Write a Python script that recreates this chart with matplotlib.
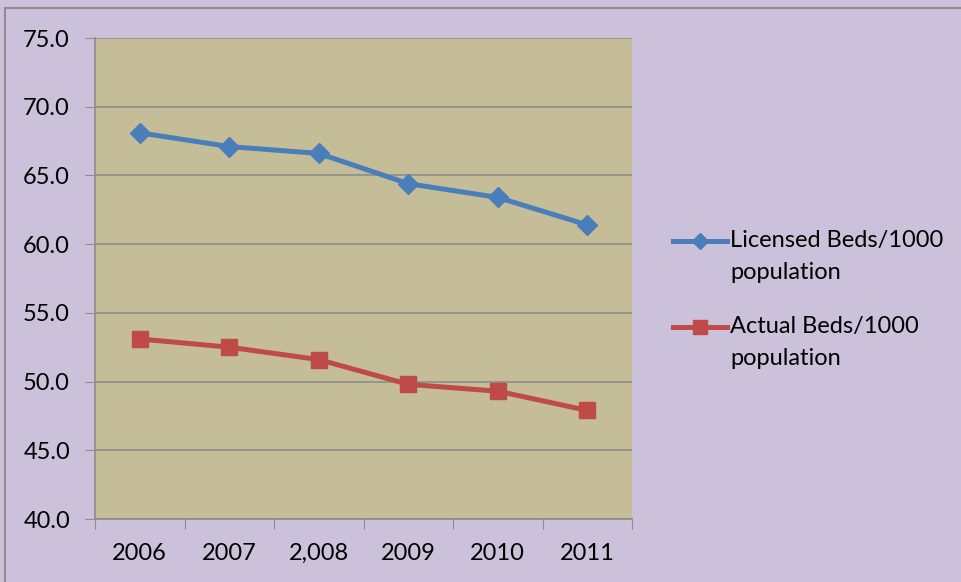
import matplotlib

matplotlib.use("Agg")

import matplotlib.pyplot as plt
from matplotlib.offsetbox import DrawingArea
from matplotlib.patches import Rectangle
from matplotlib.transforms import ScaledTranslation

# dados
anos = ["2006", "2007", "2,008", "2009", "2010", "2011"]
leitos_licenciados = [68.1, 67.1, 66.6, 64.4, 63.4, 61.4]
leitos_reais = [53.1, 52.5, 51.6, 49.8, 49.3, 47.9]
rotulo_licenciados = "Licensed Beds/1000\npopulation"
rotulo_reais = "Actual Beds/1000\npopulation"
y_ticks = [40.0, 45.0, 50.0, 55.0, 60.0, 65.0, 70.0, 75.0]

_FUNDO = "#CCC1DA"
_AREA = "#C4BD97"
_AZUL = "#4A7EBB"
_VERMELHO = "#BE4B48"
_GRADE = "#8C8C8C"
_TAM = 17

plt.rcParams["font.family"] = ["Lato", "DejaVu Sans"]

fig = plt.figure(figsize=(9.62, 5.82), dpi=100, facecolor=_FUNDO)
fig.patches.append(
    Rectangle((5 / 962, -0.01), 1.0, 1 - 8 / 582 + 0.01, transform=fig.transFigure,
              fill=False, edgecolor="#8E8E8E", linewidth=1.5)
)
ax = fig.add_axes([95 / 962, 63 / 582, 537 / 962, 481 / 582])
ax.set_facecolor(_AREA)

x = list(range(len(anos)))
ax.plot(x, leitos_licenciados, color=_AZUL, linewidth=3.6, marker="D", markersize=10,
        label=rotulo_licenciados)
ax.plot(x, leitos_reais, color=_VERMELHO, linewidth=3.6, marker="s", markersize=12,
        label=rotulo_reais)

ax.set_xlim(-0.5, len(anos) - 0.5)
ax.set_ylim(40, 75)
ax.set_yticks(y_ticks)
ax.set_yticklabels([f"{v:.1f}" for v in y_ticks], fontsize=_TAM)
ax.set_xticks([i - 0.5 for i in range(len(anos) + 1)])
ax.set_xticklabels([])
ax.set_xticks(x, minor=True)
ax.set_xticklabels(anos, minor=True, fontsize=_TAM)
ax.tick_params(axis="x", which="minor", length=0, pad=17)
ax.tick_params(axis="x", which="major", length=7, color=_GRADE, direction="out")
ax.tick_params(axis="y", length=7, color=_GRADE, pad=11)
ax.grid(axis="y", color=_GRADE, linewidth=1.2)
ax.set_axisbelow(True)
for lado in ["top", "right"]:
    ax.spines[lado].set_visible(False)
for lado in ["left", "bottom"]:
    ax.spines[lado].set_color(_GRADE)
    ax.spines[lado].set_linewidth(1.2)

leg = fig.legend(loc="upper left", bbox_to_anchor=(656 / 962, 1 - 213 / 582), frameon=False,
                 fontsize=_TAM, handlelength=2.3, handletextpad=0.15, labelspacing=1.4,
                 markerscale=0.85, borderpad=0.2)
for txt in leg.get_texts():
    txt.set_linespacing(1.65)
# marcador da legenda alinhado com a primeira linha do rótulo
desloc = ScaledTranslation(0, 11 / 72, fig.dpi_scale_trans)
for caixa in leg.findobj(DrawingArea):
    for filho in caixa.get_children():
        filho.set_transform(filho.get_transform() + desloc)

fig.savefig("out.png", dpi=100, facecolor=_FUNDO)
